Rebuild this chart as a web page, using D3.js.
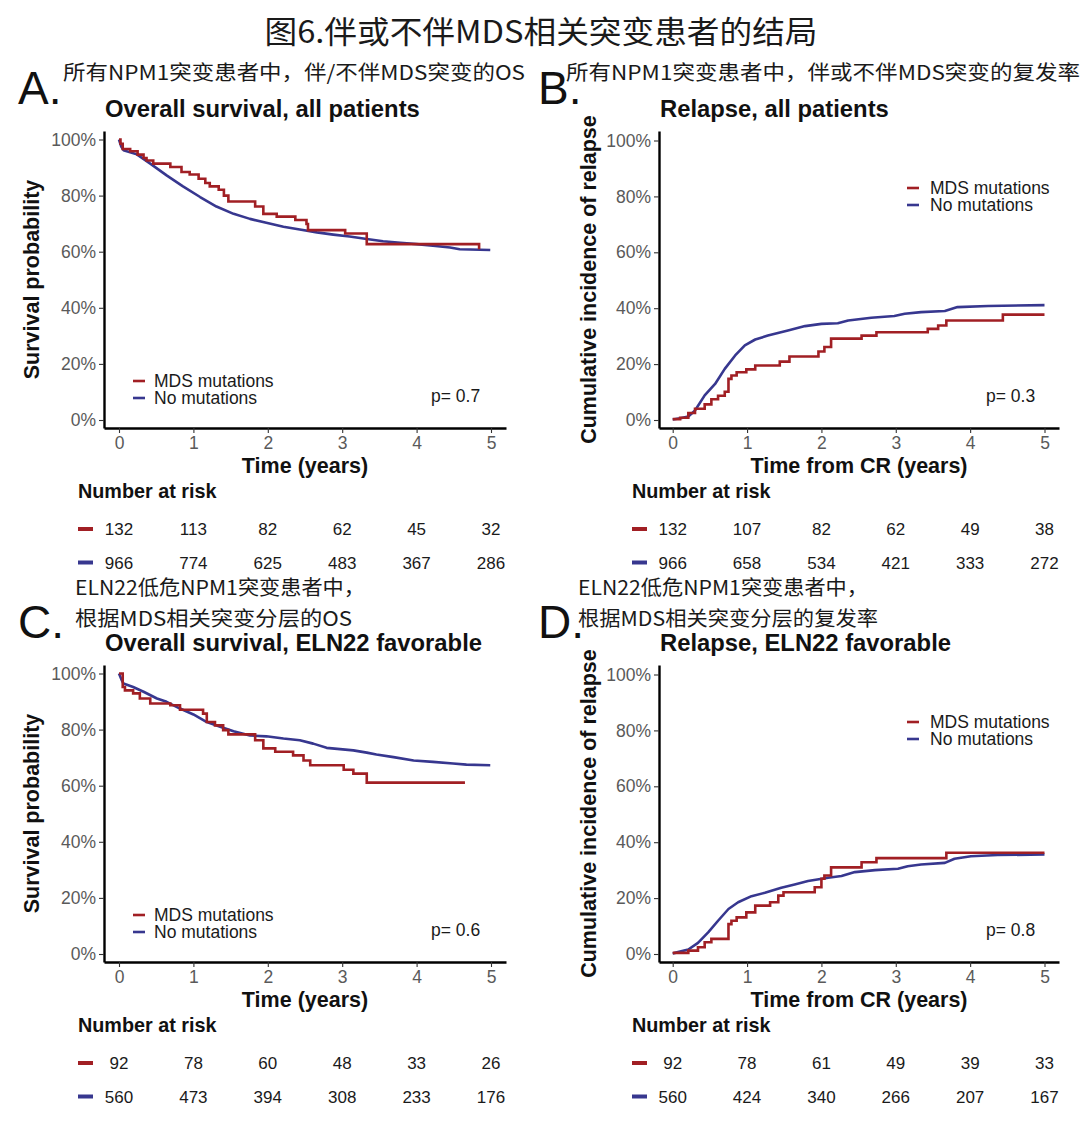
<!DOCTYPE html>
<html><head><meta charset="utf-8">
<script src="https://cdn.jsdelivr.net/npm/d3@7"></script>
<style>body{margin:0;background:#fff}svg{display:block}</style>
</head><body><svg id="c" width="1080" height="1135"></svg>
<script>
// ---------- data ----------
const mainTitle = "图6.伴或不伴MDS相关突变患者的结局";
const panelLetters = ["A.", "B.", "C.", "D."];
const panelTitles = ["Overall survival, all patients", "Relapse, all patients", "Overall survival, ELN22 favorable", "Relapse, ELN22 favorable"];
const cnNotes = [
  ["所有NPM1突变患者中，伴/不伴MDS突变的OS"],
  ["所有NPM1突变患者中，伴或不伴MDS突变的复发率"],
  ["ELN22低危NPM1突变患者中，", "根据MDS相关突变分层的OS"],
  ["ELN22低危NPM1突变患者中，", "根据MDS相关突变分层的复发率"]
];
const yTitles = ["Survival probability", "Cumulative incidence of relapse", "Survival probability", "Cumulative incidence of relapse"];
const xTitles = ["Time (years)", "Time from CR (years)", "Time (years)", "Time from CR (years)"];
const groupLabels = ["MDS mutations", "No mutations"];
const pValues = ["p= 0.7", "p= 0.3", "p= 0.6", "p= 0.8"];
const timeTicks = [0, 1, 2, 3, 4, 5];
const pctTicks = [0, 0.2, 0.4, 0.6, 0.8, 1];
const riskTitle = "Number at risk";

const riskOsAllMds = [132, 113, 82, 62, 45, 32];
const riskOsAllNo  = [966, 774, 625, 483, 367, 286];
const riskRelAllMds = [132, 107, 82, 62, 49, 38];
const riskRelAllNo  = [966, 658, 534, 421, 333, 272];
const riskOsFavMds = [92, 78, 60, 48, 33, 26];
const riskOsFavNo  = [560, 473, 394, 308, 233, 176];
const riskRelFavMds = [92, 78, 61, 49, 39, 33];
const riskRelFavNo  = [560, 424, 340, 266, 207, 167];

// [time (years), probability]
const osAllMds = [[0,1],[0.02,0.985],[0.05,0.966],[0.15,0.958],[0.25,0.946],[0.33,0.934],[0.37,0.925],[0.46,0.914],[0.69,0.902],[0.84,0.884],[0.95,0.875],[1.07,0.86],[1.16,0.845],[1.22,0.833],[1.34,0.821],[1.41,0.80],[1.47,0.779],[1.83,0.761],[1.94,0.735],[2.12,0.725],[2.37,0.713],[2.52,0.699],[2.54,0.677],[3.04,0.665],[3.33,0.627],[4.84,0.609]];
const osAllNo = [[0,1],[0.03,0.975],[0.06,0.962],[0.24,0.947],[0.42,0.914],[0.64,0.872],[0.86,0.833],[1.09,0.795],[1.31,0.761],[1.54,0.735],[1.76,0.717],[1.98,0.703],[2.21,0.689],[2.43,0.679],[2.66,0.669],[2.88,0.661],[3.10,0.654],[3.33,0.645],[3.55,0.637],[3.78,0.632],[4.0,0.627],[4.22,0.621],[4.45,0.615],[4.58,0.609],[4.99,0.606]];
const relAllMds = [[0,0.003],[0.1,0.008],[0.21,0.025],[0.30,0.04],[0.43,0.056],[0.52,0.074],[0.61,0.087],[0.70,0.101],[0.75,0.147],[0.79,0.159],[0.86,0.171],[0.99,0.181],[1.11,0.195],[1.44,0.209],[1.57,0.227],[1.96,0.245],[2.04,0.261],[2.13,0.291],[2.54,0.302],[2.74,0.314],[3.43,0.326],[3.57,0.338],[3.68,0.356],[4.44,0.377],[5.0,0.377]];
const relAllNo = [[0,0.002],[0.1,0.006],[0.21,0.012],[0.30,0.034],[0.43,0.088],[0.57,0.129],[0.70,0.183],[0.84,0.231],[0.97,0.267],[1.11,0.288],[1.28,0.302],[1.55,0.32],[1.78,0.336],[2.0,0.344],[2.22,0.346],[2.36,0.356],[2.67,0.366],[2.98,0.372],[3.12,0.38],[3.34,0.386],[3.66,0.39],[3.83,0.404],[4.24,0.408],[5.0,0.411]];
const osFavMds = [[0,1],[0.05,0.952],[0.08,0.94],[0.19,0.929],[0.28,0.911],[0.42,0.893],[0.69,0.887],[0.82,0.871],[1.13,0.857],[1.18,0.827],[1.29,0.815],[1.40,0.798],[1.47,0.783],[1.83,0.762],[1.94,0.733],[2.10,0.721],[2.34,0.708],[2.48,0.69],[2.57,0.673],[3.02,0.657],[3.15,0.643],[3.33,0.611],[4.65,0.611]];
const osFavNo = [[0,1],[0.03,0.98],[0.06,0.964],[0.19,0.952],[0.33,0.935],[0.51,0.911],[0.64,0.899],[0.82,0.875],[1.0,0.854],[1.18,0.827],[1.36,0.81],[1.54,0.794],[1.76,0.779],[1.98,0.776],[2.21,0.768],[2.43,0.762],[2.61,0.75],[2.79,0.735],[3.15,0.726],[3.33,0.718],[3.46,0.711],[3.69,0.702],[3.96,0.69],[4.22,0.685],[4.49,0.679],[4.67,0.675],[4.99,0.673]];
const relFavMds = [[0,0.004],[0.21,0.012],[0.34,0.024],[0.43,0.042],[0.52,0.054],[0.75,0.107],[0.79,0.119],[0.86,0.131],[0.99,0.149],[1.11,0.173],[1.31,0.185],[1.42,0.209],[1.49,0.221],[1.91,0.239],[2.0,0.269],[2.04,0.281],[2.13,0.31],[2.54,0.328],[2.74,0.343],[3.68,0.362],[5.0,0.362]];
const relFavNo = [[0,0.002],[0.03,0.004],[0.21,0.016],[0.34,0.04],[0.48,0.078],[0.61,0.119],[0.75,0.161],[0.88,0.185],[1.06,0.207],[1.24,0.219],[1.46,0.237],[1.64,0.249],[1.82,0.261],[2.09,0.273],[2.27,0.279],[2.45,0.293],[2.72,0.3],[3.03,0.305],[3.16,0.314],[3.34,0.32],[3.66,0.326],[3.79,0.341],[4.01,0.35],[4.37,0.354],[5.0,0.356]];

// ---------- styles / layout ----------
const RED = "#a11f24", BLUE = "#37378f";
const LATIN = "'Liberation Sans', Arial, Helvetica, sans-serif";
const CJK = "'Noto Sans CJK SC', sans-serif";

const panels = [
  {curves:[osAllMds, osAllNo], risk:[riskOsAllMds, riskOsAllNo], axL:104, axR:506, t0:119, t5:491, p0:420, p1:139.5, top:131, bot:428,
   legX:133, legY:381, legendTop:false, pX:431, pY:402, col:0, dy:0},
  {curves:[relAllMds, relAllNo], risk:[riskRelAllMds, riskRelAllNo], axL:659, axR:1059, t0:672.7, t5:1044.5, p0:420, p1:140.5, top:131, bot:428,
   legX:907, legY:188, legendTop:true, pX:986, pY:402, col:1, dy:0},
  {curves:[osFavMds, osFavNo], risk:[riskOsFavMds, riskOsFavNo], axL:104, axR:506, t0:119, t5:491, p0:420, p1:139.5, top:131, bot:428,
   legX:133, legY:381, legendTop:false, pX:431, pY:402, col:0, dy:534},
  {curves:[relFavMds, relFavNo], risk:[riskRelFavMds, riskRelFavNo], axL:659, axR:1059, t0:672.7, t5:1044.5, p0:420, p1:140.5, top:131, bot:428,
   legX:907, legY:188, legendTop:true, pX:986, pY:402, col:1, dy:534}
];
const noteLayout = [
  {x:63, ys:[80], lens:[462]},
  {x:566, ys:[80], lens:[514]},
  {x:75, ys:[595, 626], lens:[290, 277]},
  {x:578, ys:[595, 626], lens:[290, 300]}
];

const svg = d3.select("#c");
svg.append("rect").attr("width",1080).attr("height",1135).attr("fill","#fff");

svg.append("text").attr("x",541).attr("y",43).attr("text-anchor","middle")
  .attr("font-family",CJK).attr("font-size",31).attr("fill","#1a1a1a")
  .attr("textLength",553).attr("lengthAdjust","spacingAndGlyphs").text(mainTitle);

panels.forEach((P, i) => {
  const g = svg.append("g").attr("transform", `translate(0,${P.dy})`);
  // scales
  const x = d3.scaleLinear().domain([0,5]).range([P.t0, P.t5]);
  x.domain([x.invert(P.axL), x.invert(P.axR)]).range([P.axL, P.axR]);
  const y = d3.scaleLinear().domain([0,1]).range([P.p0, P.p1]);
  y.domain([y.invert(P.bot), y.invert(P.top)]).range([P.bot, P.top]);

  // chinese notes
  const N = noteLayout[i];
  cnNotes[i].forEach((s, k) => {
    svg.append("text").attr("x",N.x).attr("y",N.ys[k])
      .attr("font-family",CJK).attr("font-size",20.5).attr("fill","#1a1a1a")
      .attr("textLength",N.lens[k]).attr("lengthAdjust","spacingAndGlyphs").text(s);
  });

  // panel letter
  g.append("text").attr("x", P.col ? 538 : 18).attr("y", 104)
    .attr("font-family",LATIN).attr("font-size",46).attr("fill","#111").text(panelLetters[i]);
  // panel title
  g.append("text").attr("x", P.axL + 1).attr("y", 117)
    .attr("font-family",LATIN).attr("font-size",23.8).attr("font-weight","bold").attr("fill","#111").text(panelTitles[i]);

  // axes
  const ax = g.append("g").attr("transform",`translate(0,${P.bot})`)
    .call(d3.axisBottom(x).tickValues(timeTicks).tickFormat(d3.format("d")).tickSize(5).tickSizeOuter(0).tickPadding(4));
  const ay = g.append("g").attr("transform",`translate(${P.axL},0)`)
    .call(d3.axisLeft(y).tickValues(pctTicks).tickFormat(d3.format(".0%")).tickSize(5).tickSizeOuter(0).tickPadding(3));
  [ax, ay].forEach(a => {
    a.select(".domain").attr("stroke","#000").attr("stroke-width",2.4);
    a.selectAll(".tick line").attr("stroke","#333").attr("stroke-width",1.1);
    a.selectAll(".tick text").attr("font-family",LATIN).attr("font-size",17.5).attr("fill","#5a5a5a");
  });

  // axis titles
  g.append("text").attr("transform",`translate(${P.col ? 596 : 39},${(P.top+P.bot)/2})rotate(-90)`)
    .attr("text-anchor","middle").attr("font-family",LATIN).attr("font-size",21.5).attr("font-weight","bold")
    .attr("fill","#111").text(yTitles[i]);
  g.append("text").attr("x",(P.axL+P.axR)/2).attr("y",473).attr("text-anchor","middle")
    .attr("font-family",LATIN).attr("font-size",21.5).attr("font-weight","bold").attr("fill","#111").text(xTitles[i]);

  // curves
  const colors = [RED, BLUE];
  const lineStep = d3.line().x(d => x(d[0])).y(d => y(d[1])).curve(d3.curveStepAfter);
  const lineSmooth = d3.line().x(d => x(d[0])).y(d => y(d[1])).curve(d3.curveLinear);
  g.append("path").datum(P.curves[1]).attr("d", lineSmooth).attr("fill","none")
    .attr("stroke",BLUE).attr("stroke-width",2.6).attr("stroke-linejoin","round");
  g.append("path").datum(P.curves[0]).attr("d", lineStep).attr("fill","none")
    .attr("stroke",RED).attr("stroke-width",2.6);

  // legend
  groupLabels.forEach((lab, k) => {
    const ly = P.legY + k*17;
    g.append("line").attr("x1",P.legX).attr("x2",P.legX+12).attr("y1",ly).attr("y2",ly)
      .attr("stroke",colors[k]).attr("stroke-width",2.6);
    g.append("text").attr("x",P.legX + (P.legendTop ? 23 : 21)).attr("y",ly+6)
      .attr("font-family",LATIN).attr("font-size",17.5).attr("fill","#1a1a1a").text(lab);
  });
  g.append("text").attr("x",P.pX).attr("y",P.pY).attr("font-family",LATIN).attr("font-size",17.5)
    .attr("fill","#1a1a1a").text(pValues[i]);

  // risk table
  const rx = P.col ? 632 : 78;
  g.append("text").attr("x",rx).attr("y",498).attr("font-family",LATIN).attr("font-size",19.8)
    .attr("font-weight","bold").attr("fill","#111").text(riskTitle);
  P.risk.forEach((row, k) => {
    const by = 535 + k*33.5;
    g.append("line").attr("x1",rx).attr("x2",rx+15).attr("y1",by-6).attr("y2",by-6)
      .attr("stroke",colors[k]).attr("stroke-width",4);
    g.selectAll(null).data(row).enter().append("text")
      .attr("x",(d,j) => x(timeTicks[j])).attr("y",by)
      .attr("text-anchor","middle").attr("font-family",LATIN).attr("font-size",17)
      .attr("fill","#1a1a1a").text(d => d);
  });
});
</script></body></html>
